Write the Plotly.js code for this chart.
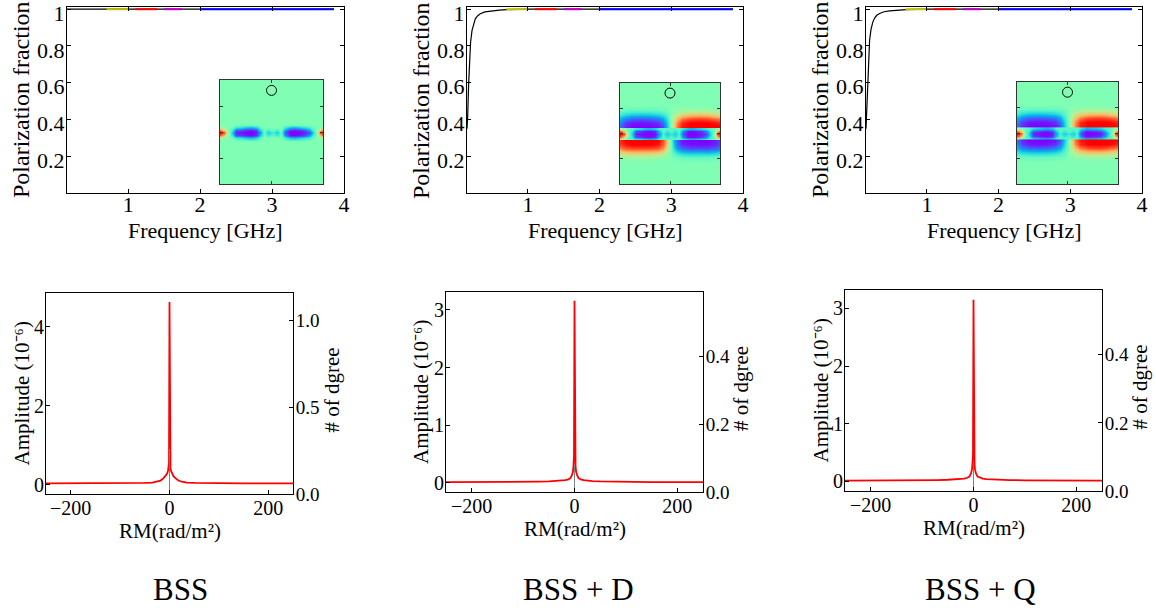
<!DOCTYPE html>
<html><head><meta charset="utf-8">
<script src="https://cdn.plot.ly/plotly-3.0.1.min.js"></script>
<style>html,body{margin:0;padding:0;background:#fff}#chart{width:1156px;height:611px}</style>
</head><body><div id="chart"></div>
<script>
// ================= DATA =================
// top row: polarization fraction vs frequency
const freqTicks = [1, 2, 3, 4];
const fracTicks = [0.2, 0.4, 0.6, 0.8, 1];
const fracTickText = ['0.2', '0.4', '0.6', '0.8', '1'];

const freqBSS = [0.15, 0.5, 1.0, 2.0, 3.86];
const fracBSS = [1.0, 1.0, 1.0, 1.0, 1.0];
const freqD = [0.15, 0.159, 0.173, 0.187, 0.2, 0.22, 0.245, 0.266, 0.3, 0.336, 0.4, 0.475, 0.6, 0.71, 1.0, 2.0, 3.86];
const fracD = [0.35, 0.414, 0.595, 0.74, 0.82, 0.885, 0.925, 0.948, 0.965, 0.975, 0.985, 0.99, 0.995, 0.998, 1.0, 1.0, 1.0];
const freqQ = [0.15, 0.158, 0.17, 0.185, 0.2, 0.22, 0.245, 0.27, 0.3, 0.34, 0.4, 0.48, 0.6, 0.71, 1.0, 2.0, 3.86];
const fracQ = [0.35, 0.42, 0.6, 0.75, 0.83, 0.89, 0.93, 0.952, 0.967, 0.977, 0.986, 0.991, 0.995, 0.998, 1.0, 1.0, 1.0];

// coloured frequency bands drawn on top of the curve at fraction 1
const segStart = [0.7, 1.1, 1.5, 2.0];
const segEnd = [1.0, 1.4, 1.75, 3.86];
const segFrac = [1.0, 1.0, 1.0, 1.0];
const segColors = ['#bfbf00', '#ff0000', '#bf00bf', '#0000ff'];

// bottom row: Faraday spectrum amplitude (1e-6) vs RM
const rmTicks = [-200, 0, 200];
const rmTickText = ['\u2212200', '0', '200'];
const rm = [-250, -200, -150, -100, -70, -50, -35, -25, -18, -12, -8, -5, -3, -2, -1, 0, 1, 2, 3, 5, 8, 12, 18, 25, 35, 50, 70, 100, 150, 200, 250];
const ampBSS = [0.04, 0.04, 0.04, 0.04, 0.045, 0.05, 0.06, 0.08, 0.11, 0.17, 0.22, 0.28, 0.36, 0.42, 0.56, 4.62, 0.56, 0.42, 0.36, 0.28, 0.22, 0.17, 0.11, 0.08, 0.06, 0.05, 0.045, 0.04, 0.04, 0.04, 0.04];
const ampD = [0.01, 0.01, 0.012, 0.015, 0.02, 0.025, 0.03, 0.035, 0.045, 0.06, 0.08, 0.13, 0.2, 0.3, 0.46, 3.16, 0.46, 0.3, 0.2, 0.13, 0.08, 0.06, 0.045, 0.035, 0.03, 0.025, 0.02, 0.015, 0.012, 0.01, 0.01];
const ampQ = [0.01, 0.01, 0.012, 0.015, 0.02, 0.025, 0.03, 0.035, 0.045, 0.06, 0.08, 0.13, 0.2, 0.3, 0.47, 3.15, 0.47, 0.3, 0.2, 0.13, 0.08, 0.06, 0.045, 0.035, 0.03, 0.025, 0.02, 0.015, 0.012, 0.01, 0.01];
const ampTicksBSS = [0, 2, 4];
const ampTicksDQ = [0, 1, 2, 3];
// "# of dgree" (right axis) histogram bar at RM = 0
const degRM = [0];
const degBSS = [0.26];
const degD = [0.08];
const degQ = [0.08];
const degTicksBSS = [0, 0.5, 1.0];
const degTickTextBSS = ['0.0', '0.5', '1.0'];
const degTicksDQ = [0, 0.2, 0.4];
const degTickTextDQ = ['0.0', '0.2', '0.4'];

// insets: polarization-angle maps (0 = purple ... 0.5 = green ... 1 = red)
const circleX = [0.5];
const circleY = [0.9];
const bandX = [0, 0.04, 0.08, 0.12, 0.16, 0.2, 0.25, 0.3, 0.35, 0.39, 0.43, 0.47, 0.51, 0.55, 0.59, 0.63, 0.68, 0.73, 0.78, 0.82, 0.86, 0.9, 0.94, 0.97, 1];
const bandYBSS = [0.41, 0.445, 0.47, 0.493, 0.516, 0.54, 0.575];
const bandZBSS = [
  [0.5,0.5,0.5,0.5,0.5,0.5,0.5,0.5,0.5,0.5,0.5,0.5,0.5,0.5,0.5,0.5,0.5,0.5,0.5,0.5,0.5,0.5,0.5,0.5,0.5],
  [0.6,0.53,0.5,0.47,0.36,0.34,0.28,0.25,0.3,0.42,0.5,0.49,0.5,0.49,0.5,0.38,0.27,0.25,0.3,0.33,0.38,0.46,0.5,0.53,0.6],
  [0.88,0.72,0.5,0.38,0.1,0.08,0.03,0.01,0.06,0.3,0.47,0.38,0.45,0.38,0.47,0.2,0.02,0.01,0.04,0.08,0.2,0.4,0.5,0.72,0.88],
  [1,0.92,0.55,0.3,0.03,0.02,0,0,0.02,0.2,0.45,0.3,0.38,0.3,0.45,0.1,0,0,0.01,0.03,0.08,0.3,0.55,0.92,1],
  [0.88,0.72,0.5,0.38,0.1,0.08,0.03,0.01,0.06,0.3,0.47,0.38,0.45,0.38,0.47,0.2,0.02,0.01,0.04,0.08,0.2,0.4,0.5,0.72,0.88],
  [0.6,0.53,0.5,0.47,0.36,0.34,0.28,0.25,0.3,0.42,0.5,0.49,0.5,0.49,0.5,0.38,0.27,0.25,0.3,0.33,0.38,0.46,0.5,0.53,0.6],
  [0.5,0.5,0.5,0.5,0.5,0.5,0.5,0.5,0.5,0.5,0.5,0.5,0.5,0.5,0.5,0.5,0.5,0.5,0.5,0.5,0.5,0.5,0.5,0.5,0.5]
];
const bandYDQ = [0.447, 0.47, 0.495, 0.52, 0.543];
const bandZD = [
  [0.6,0.52,0.45,0.42,0.35,0.33,0.28,0.26,0.3,0.4,0.43,0.43,0.43,0.43,0.43,0.36,0.27,0.26,0.3,0.33,0.37,0.42,0.45,0.52,0.6],
  [0.9,0.72,0.45,0.36,0.1,0.08,0.03,0.01,0.06,0.28,0.42,0.36,0.42,0.36,0.42,0.18,0.02,0.01,0.04,0.08,0.18,0.36,0.45,0.72,0.9],
  [1,0.92,0.5,0.3,0.03,0.02,0,0,0.02,0.2,0.4,0.3,0.36,0.3,0.4,0.1,0,0,0.01,0.03,0.08,0.3,0.5,0.92,1],
  [0.9,0.72,0.45,0.36,0.1,0.08,0.03,0.01,0.06,0.28,0.42,0.36,0.42,0.36,0.42,0.18,0.02,0.01,0.04,0.08,0.18,0.36,0.45,0.72,0.9],
  [0.6,0.52,0.45,0.42,0.35,0.33,0.28,0.26,0.3,0.4,0.43,0.43,0.43,0.43,0.43,0.36,0.27,0.26,0.3,0.33,0.37,0.42,0.45,0.52,0.6]
];
const bandZQ = [
  [0.6,0.52,0.45,0.42,0.35,0.32,0.28,0.26,0.3,0.4,0.43,0.43,0.43,0.43,0.43,0.35,0.26,0.27,0.29,0.32,0.37,0.42,0.45,0.52,0.6],
  [0.9,0.72,0.45,0.36,0.1,0.07,0.03,0.01,0.06,0.28,0.42,0.36,0.42,0.36,0.42,0.16,0.01,0.03,0.04,0.07,0.2,0.36,0.45,0.72,0.9],
  [1,0.92,0.5,0.3,0.04,0.02,0,0,0.02,0.22,0.4,0.3,0.36,0.3,0.4,0.08,0,0,0.01,0.02,0.1,0.3,0.5,0.92,1],
  [0.9,0.72,0.45,0.36,0.1,0.07,0.03,0.01,0.06,0.28,0.42,0.36,0.42,0.36,0.42,0.16,0.01,0.03,0.04,0.07,0.2,0.36,0.45,0.72,0.9],
  [0.6,0.52,0.45,0.42,0.35,0.32,0.28,0.26,0.3,0.4,0.43,0.43,0.43,0.43,0.43,0.35,0.26,0.27,0.29,0.32,0.37,0.42,0.45,0.52,0.6]
];
const outerX = [0, 0.05, 0.12, 0.2, 0.3, 0.38, 0.43, 0.47, 0.5, 0.53, 0.57, 0.62, 0.7, 0.8, 0.88, 0.95, 1];
const upperY = [0.57, 0.61, 0.65, 0.69, 0.74, 0.79];
const lowerY = [0.21, 0.26, 0.31, 0.35, 0.39, 0.43];
const upperZD = [
  [0.15,0.05,0,0,0,0.02,0.1,0.28,0.45,0.65,0.85,0.97,1,1,1,1,1],
  [0.18,0.08,0.03,0.02,0.03,0.06,0.15,0.31,0.47,0.63,0.82,0.95,1,1,1,0.98,0.95],
  [0.26,0.18,0.13,0.12,0.13,0.16,0.24,0.36,0.48,0.6,0.73,0.84,0.9,0.92,0.9,0.86,0.84],
  [0.38,0.33,0.3,0.29,0.3,0.32,0.36,0.42,0.49,0.56,0.62,0.68,0.72,0.73,0.72,0.68,0.66],
  [0.47,0.46,0.45,0.45,0.45,0.46,0.47,0.48,0.5,0.52,0.53,0.54,0.55,0.55,0.55,0.54,0.53],
  [0.5,0.5,0.5,0.5,0.5,0.5,0.5,0.5,0.5,0.5,0.5,0.5,0.5,0.5,0.5,0.5,0.5]
];
const lowerZD = [
  [0.5,0.5,0.5,0.5,0.5,0.5,0.5,0.5,0.5,0.5,0.5,0.5,0.5,0.5,0.5,0.5,0.5],
  [0.53,0.54,0.55,0.55,0.55,0.54,0.53,0.51,0.5,0.49,0.47,0.46,0.45,0.45,0.45,0.46,0.47],
  [0.66,0.7,0.72,0.72,0.72,0.7,0.65,0.57,0.5,0.43,0.35,0.3,0.28,0.28,0.28,0.3,0.33],
  [0.82,0.88,0.9,0.9,0.9,0.88,0.8,0.65,0.5,0.36,0.22,0.14,0.1,0.1,0.1,0.12,0.16],
  [0.92,0.97,1,1,1,0.97,0.88,0.7,0.52,0.33,0.15,0.05,0.02,0.02,0.02,0.05,0.1],
  [0.95,1,1,1,1,1,0.9,0.72,0.52,0.3,0.12,0.02,0,0,0,0.03,0.08]
];
const upperZQ = [
  [0.15,0.05,0,0,0,0.02,0.1,0.28,0.45,0.62,0.82,0.96,1,1,1,1,0.98],
  [0.18,0.08,0.03,0.02,0.03,0.06,0.15,0.31,0.47,0.62,0.8,0.94,1,1,1,0.98,0.95],
  [0.26,0.18,0.13,0.12,0.13,0.16,0.24,0.36,0.48,0.6,0.72,0.83,0.9,0.92,0.9,0.86,0.84],
  [0.38,0.33,0.3,0.29,0.3,0.32,0.36,0.42,0.49,0.56,0.62,0.68,0.72,0.73,0.72,0.68,0.66],
  [0.47,0.46,0.45,0.45,0.45,0.46,0.47,0.48,0.5,0.52,0.53,0.54,0.55,0.55,0.55,0.54,0.53],
  [0.5,0.5,0.5,0.5,0.5,0.5,0.5,0.5,0.5,0.5,0.5,0.5,0.5,0.5,0.5,0.5,0.5]
];
const lowerZQ = [
  [0.5,0.5,0.5,0.5,0.5,0.5,0.5,0.5,0.5,0.5,0.5,0.5,0.5,0.5,0.5,0.5,0.5],
  [0.47,0.46,0.45,0.45,0.45,0.46,0.47,0.48,0.5,0.52,0.53,0.54,0.55,0.55,0.55,0.54,0.53],
  [0.36,0.32,0.3,0.29,0.3,0.32,0.36,0.42,0.49,0.56,0.62,0.68,0.72,0.73,0.72,0.68,0.66],
  [0.25,0.18,0.13,0.12,0.13,0.16,0.24,0.36,0.48,0.6,0.73,0.84,0.9,0.92,0.9,0.86,0.84],
  [0.18,0.08,0.03,0.02,0.03,0.06,0.15,0.31,0.47,0.63,0.82,0.95,1,1,1,0.98,0.95],
  [0.15,0.05,0,0,0,0.02,0.1,0.28,0.45,0.65,0.85,0.97,1,1,1,1,1]
];
const panelLabels = ['BSS', 'BSS + D', 'BSS + Q'];
const titleFreq = 'Frequency [GHz]';
const titleFrac = 'Polarization fraction';
const titleRM = 'RM(rad/m\u00b2)';
const titleAmp = 'Amplitude (10\u207b\u2076)';
const titleDeg = '# of dgree';

// ================= STYLE / LAYOUT =================
const W = 1156, H = 611;
const FONT = 'Liberation Serif';
const dx = (a, b) => [a / W, b / W];
const dy = (a, b) => [1 - b / H, 1 - a / H];
const rainbow = [
  [0, 'rgb(128,0,255)'], [0.1, 'rgb(77,79,252)'], [0.2, 'rgb(26,150,243)'], [0.25, 'rgb(0,180,236)'],
  [0.3, 'rgb(26,206,227)'], [0.4, 'rgb(77,243,206)'], [0.5, 'rgb(128,255,180)'], [0.6, 'rgb(179,243,150)'],
  [0.7, 'rgb(230,206,116)'], [0.75, 'rgb(255,180,98)'], [0.8, 'rgb(255,150,79)'], [0.9, 'rgb(255,79,40)'],
  [1, 'rgb(255,0,0)']
];
const MINT = 'rgb(128,255,180)';

const traces = [];
const layout = {
  width: W, height: H, margin: {l: 0, r: 0, t: 0, b: 0},
  paper_bgcolor: '#fff', plot_bgcolor: 'rgba(0,0,0,0)', showlegend: false,
  font: {family: FONT, color: '#000'},
  annotations: [], shapes: []
};

function baseAxis(extra) {
  return Object.assign({
    showgrid: false, zeroline: false, showline: true, linecolor: '#000', linewidth: 1,
    ticks: 'inside', ticklen: 4, tickcolor: '#000', fixedrange: true, ticklabeloverflow: 'allow'
  }, extra);
}
function note(text, px, py, size, angle) {
  layout.annotations.push({text: text, xref: 'paper', yref: 'paper', x: px / W, y: 1 - py / H,
    xanchor: 'center', yanchor: 'middle', showarrow: false, textangle: angle || 0,
    font: {family: FONT, size: size, color: '#000'}});
}

// ---- top row ----
const topX = [[67, 344], [467, 743], [866, 1142]];
const topCurves = [[freqBSS, fracBSS], [freqD, fracD], [freqQ, fracQ]];
for (let i = 0; i < 3; i++) {
  const n = i + 1, sx = n === 1 ? '' : String(n);
  layout['xaxis' + sx] = baseAxis({
    domain: dx(topX[i][0], topX[i][1]), anchor: 'y' + sx, range: [0.15, 4],
    tickvals: freqTicks, mirror: 'ticks', ticklabelstandoff: -8,
    tickfont: {family: FONT, size: 22, color: '#000'}
  });
  layout['yaxis' + sx] = baseAxis({
    domain: dy(7, 193), anchor: 'x' + sx, range: [0, 1.012],
    tickvals: fracTicks, ticktext: fracTickText, mirror: 'ticks', ticklabelstandoff: -3, ticklabelshift: 4,
    tickfont: {family: FONT, size: 22, color: '#000'}
  });
  note(titleFreq, (topX[i][0] + topX[i][1]) / 2, 230, 22, 0);
  note(titleFrac, topX[i][0] - 46, 100, 24, -90);
  traces.push({x: topCurves[i][0], y: topCurves[i][1], xaxis: 'x' + sx, yaxis: 'y' + sx,
    mode: 'lines', line: {color: '#000', width: 1.2}, hoverinfo: 'skip'});
  for (let s = 0; s < segStart.length; s++) {
    traces.push({x: [segStart[s], segEnd[s]], y: [segFrac[s], segFrac[s]], xaxis: 'x' + sx, yaxis: 'y' + sx,
      mode: 'lines', line: {color: segColors[s], width: 2}, hoverinfo: 'skip'});
  }
}

// ---- bottom row ----
const botX = [[46, 293], [446, 703], [845, 1102]];
const botY = [[293, 494], [292, 492], [290, 491]];
const rmTitleY = [531, 529, 528];
const ampSeries = [ampBSS, ampD, ampQ];
const ampRanges = [[-0.23, 4.85], [-0.16, 3.31], [-0.17, 3.32]];
const ampTickSets = [ampTicksBSS, ampTicksDQ, ampTicksDQ];
const degSeries = [degBSS, degD, degQ];
const degRanges = [[0, 1.16], [0, 0.59], [0, 0.59]];
const degTickSets = [[degTicksBSS, degTickTextBSS], [degTicksDQ, degTickTextDQ], [degTicksDQ, degTickTextDQ]];
for (let i = 0; i < 3; i++) {
  const n = i + 4, r = i + 7;
  layout['xaxis' + n] = baseAxis({
    domain: dx(botX[i][0], botX[i][1]), anchor: 'y' + n, range: [-250, 250],
    tickvals: rmTicks, ticktext: rmTickText, mirror: true, ticklabelstandoff: -4,
    tickfont: {family: FONT, size: 20, color: '#000'}
  });
  layout['yaxis' + n] = baseAxis({
    domain: dy(botY[i][0], botY[i][1]), anchor: 'x' + n, range: ampRanges[i],
    tickvals: ampTickSets[i], mirror: false, ticklabelstandoff: -3,
    tickfont: {family: FONT, size: 20, color: '#000'}
  });
  layout['yaxis' + r] = baseAxis({
    overlaying: 'y' + n, anchor: 'x' + n, side: 'right', range: degRanges[i],
    tickvals: degTickSets[i][0], ticktext: degTickSets[i][1], ticklabelstandoff: -2,
    tickfont: {family: FONT, size: 19, color: '#000'}
  });
  const cx = (botX[i][0] + botX[i][1]) / 2, cy = (botY[i][0] + botY[i][1]) / 2;
  note(titleRM, cx, rmTitleY[i], 21, 0);
  note(titleAmp, botX[i][0] - 25, cy, 21, -90);
  note(titleDeg, botX[i][1] + 38, cy - 3, 21, -90);
  traces.push({x: [degRM[0], degRM[0]], y: [0, degSeries[i][0]], xaxis: 'x' + n, yaxis: 'y' + r,
    mode: 'lines', line: {color: '#808080', width: 1}, hoverinfo: 'skip'});
  traces.push({x: rm, y: ampSeries[i], xaxis: 'x' + n, yaxis: 'y' + n,
    mode: 'lines', line: {color: '#ff0000', width: 1.8}, hoverinfo: 'skip'});
}

// ---- insets ----
const inX = [[220, 323], [620, 720], [1017, 1118]];
const inY = [[80, 184], [83, 184], [82, 184]];
const bandSets = [[bandYBSS, bandZBSS], [bandYDQ, bandZD], [bandYDQ, bandZQ]];
const outerSets = [null, [upperZD, lowerZD], [upperZQ, lowerZQ]];
for (let i = 0; i < 3; i++) {
  const n = i + 10;
  layout['xaxis' + n] = baseAxis({
    domain: dx(inX[i][0], inX[i][1]), anchor: 'y' + n, range: [0, 1],
    tickvals: [0, 0.5, 1], showticklabels: false, mirror: 'ticks', linecolor: '#333', ticklen: 3, tickcolor: '#333'
  });
  layout['yaxis' + n] = baseAxis({
    domain: dy(inY[i][0], inY[i][1]), anchor: 'x' + n, range: [0, 1],
    tickvals: [0.25, 0.5, 0.75], showticklabels: false, mirror: 'ticks', linecolor: '#333', ticklen: 3, tickcolor: '#333'
  });
  layout.shapes.push({type: 'rect', xref: 'x' + n, yref: 'y' + n, x0: 0, x1: 1, y0: 0, y1: 1,
    fillcolor: MINT, line: {width: 0}, layer: 'below'});
  const hm = {type: 'heatmap', xaxis: 'x' + n, yaxis: 'y' + n, colorscale: rainbow, zmin: 0, zmax: 1,
    zsmooth: 'best', showscale: false, hoverinfo: 'skip'};
  if (outerSets[i]) {
    traces.push(Object.assign({}, hm, {x: outerX, y: upperY, z: outerSets[i][0]}));
    traces.push(Object.assign({}, hm, {x: outerX, y: lowerY, z: outerSets[i][1]}));
  }
  traces.push(Object.assign({}, hm, {x: bandX, y: bandSets[i][0], z: bandSets[i][1]}));
  traces.push({x: circleX, y: circleY, xaxis: 'x' + n, yaxis: 'y' + n, mode: 'markers',
    marker: {symbol: 'circle-open', size: 10, color: '#000', line: {width: 1}}, hoverinfo: 'skip'});
}

// ---- panel captions ----
const capX = [180, 578, 980];
for (let i = 0; i < 3; i++) note(panelLabels[i], capX[i], 589, 31, 0);

Plotly.newPlot('chart', traces, layout, {displayModeBar: false, staticPlot: true});
</script>
</body></html>
